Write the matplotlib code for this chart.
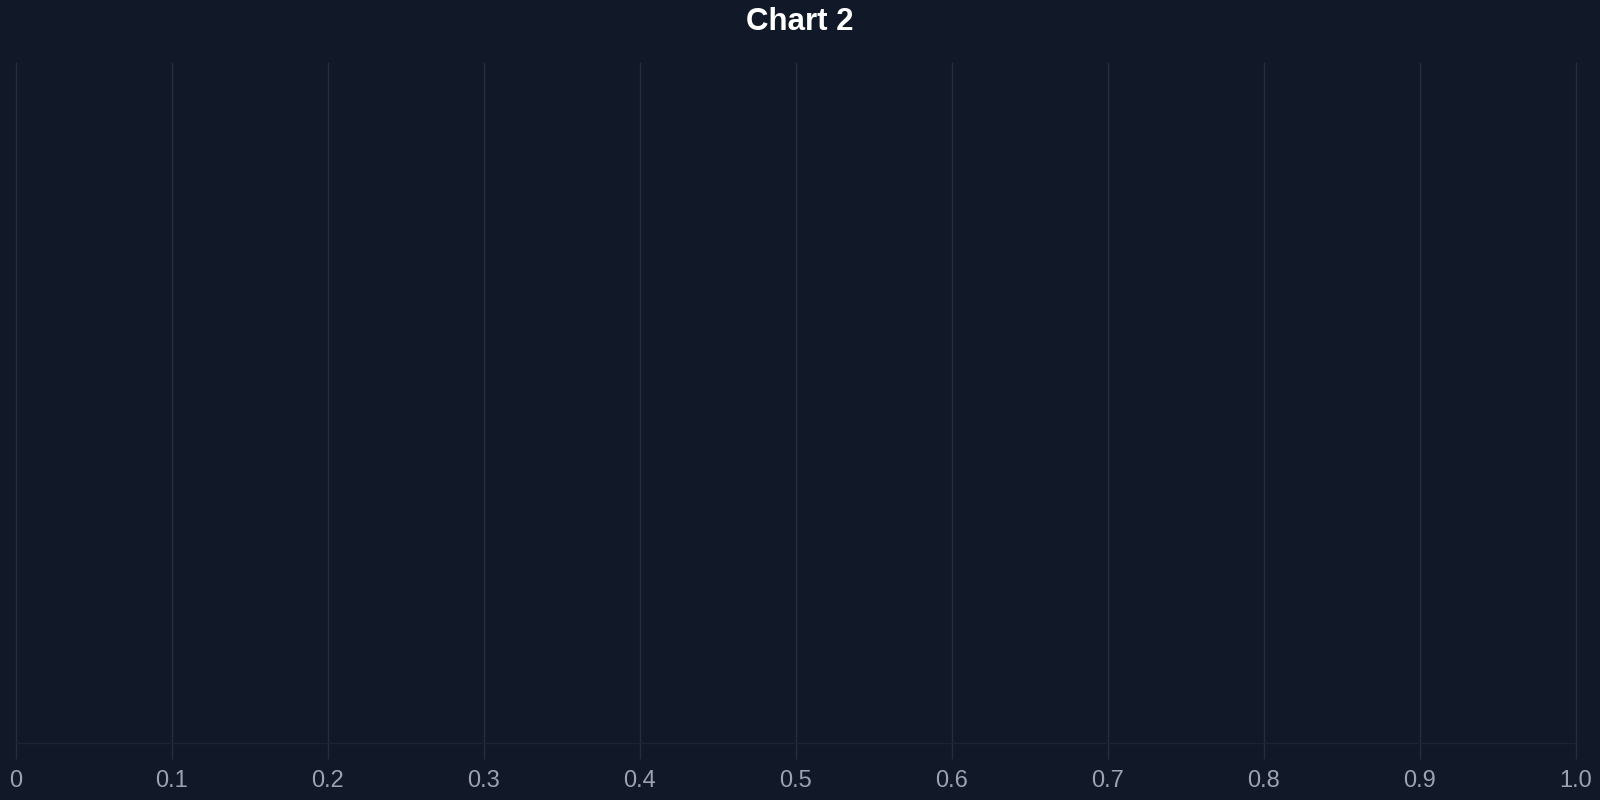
"""
Chart 2 - empty value axis on a dark background
"""

import matplotlib
matplotlib.use('Agg')
import matplotlib.pyplot as plt

# Axis setup (no series are plotted)
x_ticks = [0, 0.1, 0.2, 0.3, 0.4, 0.5, 0.6, 0.7, 0.8, 0.9, 1.0]
x_tick_labels = ['0', '0.1', '0.2', '0.3', '0.4', '0.5', '0.6', '0.7', '0.8', '0.9', '1.0']
series_values = []
title = 'Chart 2'

BG = '#111827'
GRID = '#262e3d'
AXIS = '#1c2433'
TICK_TEXT = '#9ca3af'

plt.rcParams['font.family'] = ['Liberation Sans', 'DejaVu Sans']

fig = plt.figure(figsize=(16, 8), dpi=100, facecolor=BG)
ax = fig.add_axes([0.01, 0.07125, 0.975, 0.85])
ax.set_facecolor(BG)

if series_values:
    ax.plot(x_ticks[:len(series_values)], series_values)

ax.set_xlim(x_ticks[0], x_ticks[-1])
ax.set_ylim(0, 1)
ax.set_xticks(x_ticks)
ax.set_xticklabels(x_tick_labels)
ax.set_yticks([])

# Vertical grid only (unclipped so the edge lines at 0 and 1.0 show)
ax.grid(True, axis='x', color=GRID, linewidth=1.0)
ax.set_axisbelow(True)
for line in ax.get_xgridlines():
    line.set_clip_on(False)

for side in ['top', 'right', 'left']:
    ax.spines[side].set_visible(False)
ax.spines['bottom'].set_color(AXIS)
ax.spines['bottom'].set_linewidth(1.0)

ax.tick_params(axis='x', colors=GRID, labelcolor=TICK_TEXT, length=11.5,
               width=1.0, labelsize=17, pad=8)

fig.text(0.5, 0.9725, title, ha='center', va='center', color='white',
         fontsize=22.5, fontweight='bold')

plt.savefig('out.png', dpi=100, facecolor=BG)
plt.close()
